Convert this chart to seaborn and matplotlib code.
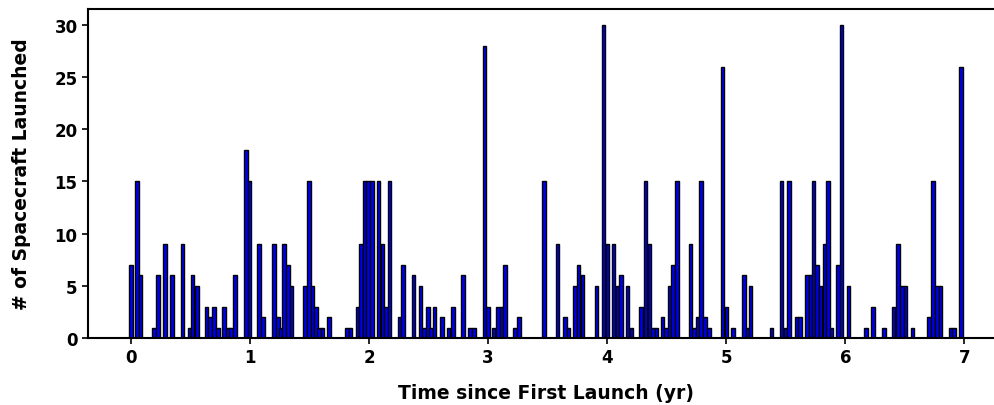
import matplotlib
matplotlib.use("Agg")
import matplotlib.pyplot as plt
import seaborn as sns

# Launch events: time since first launch (years) and spacecraft launched
launch_years = [
    0.000, 0.053, 0.081, 0.193, 0.227, 0.285, 0.344, 0.434, 0.492, 0.518,
    0.554, 0.635, 0.666, 0.697, 0.733, 0.784, 0.815, 0.840, 0.874, 0.966,
    0.997, 1.078, 1.111, 1.201, 1.235, 1.257, 1.285, 1.319, 1.349, 1.464,
    1.495, 1.526, 1.554, 1.582, 1.610, 1.666, 1.817, 1.845, 1.904, 1.935,
    1.962, 1.993, 2.027, 2.080, 2.112, 2.142, 2.173, 2.256, 2.287, 2.374,
    2.434, 2.461, 2.495, 2.520, 2.551, 2.613, 2.668, 2.705, 2.789, 2.848,
    2.881, 2.968, 2.999, 3.046, 3.083, 3.113, 3.144, 3.228, 3.259, 3.469,
    3.584, 3.646, 3.674, 3.730, 3.760, 3.791, 3.911, 3.968, 4.001, 4.054,
    4.088, 4.116, 4.172, 4.205, 4.284, 4.320, 4.354, 4.385, 4.413, 4.466,
    4.494, 4.522, 4.553, 4.587, 4.701, 4.729, 4.760, 4.788, 4.822, 4.856,
    4.970, 5.001, 5.057, 5.149, 5.177, 5.205, 5.379, 5.465, 5.497, 5.528,
    5.589, 5.617, 5.679, 5.706, 5.732, 5.763, 5.790, 5.824, 5.855, 5.885,
    5.936, 5.969, 6.028, 6.174, 6.230, 6.326, 6.406, 6.443, 6.474, 6.505,
    6.563, 6.704, 6.734, 6.768, 6.799, 6.883, 6.911, 6.969,
]
spacecraft = [
    7, 15, 6, 1, 6, 9, 6, 9, 1, 6,
    5, 3, 2, 3, 1, 3, 1, 1, 6, 18,
    15, 9, 2, 9, 2, 1, 9, 7, 5, 5,
    15, 5, 3, 1, 1, 2, 1, 1, 3, 9,
    15, 15, 15, 15, 9, 3, 15, 2, 7, 6,
    5, 1, 3, 1, 3, 2, 1, 3, 6, 1,
    1, 28, 3, 1, 3, 3, 7, 1, 2, 15,
    9, 2, 1, 5, 7, 6, 5, 30, 9, 9,
    5, 6, 5, 1, 3, 15, 9, 1, 1, 2,
    1, 5, 7, 15, 9, 1, 2, 15, 2, 1,
    26, 3, 1, 6, 1, 5, 1, 15, 1, 15,
    2, 2, 6, 6, 15, 7, 5, 9, 15, 1,
    7, 30, 5, 1, 3, 1, 3, 9, 5, 5,
    1, 2, 15, 5, 5, 1, 1, 26,
]
x_ticks = [0, 1, 2, 3, 4, 5, 6, 7]
y_ticks = [0, 5, 10, 15, 20, 25, 30]

sns.set_theme(style="ticks")
plt.rcParams["font.family"] = ["DejaVu Sans"]
plt.rcParams.update({
    "text.color": "black",
    "axes.labelcolor": "black",
    "xtick.color": "black",
    "ytick.color": "black",
})

fig = plt.figure(figsize=(9.94, 4.06), dpi=100)
ax = fig.add_axes([0.0885, 0.165, 0.9225, 0.810])

ax.bar(launch_years, spacecraft, width=0.03, color="#0000ee",
       edgecolor="black", linewidth=1.0)

ax.set_xlim(-0.36, 7.34)
ax.set_ylim(0, 31.5)
ax.set_xticks(x_ticks)
ax.set_yticks(y_ticks)
ax.tick_params(axis="both", labelsize=12, width=1.2, length=4, color="black")
for lbl in ax.get_xticklabels() + ax.get_yticklabels():
    lbl.set_fontweight("bold")

for side in ["left", "bottom", "top", "right"]:
    ax.spines[side].set_color("black")
    ax.spines[side].set_linewidth(1.5)

ax.set_xlabel("Time since First Launch (yr)", fontsize=13.5,
              fontweight="bold", labelpad=12)
ax.set_ylabel("# of Spacecraft Launched", fontsize=13.5,
              fontweight="bold", labelpad=17)

fig.savefig("out.png", dpi=100)
